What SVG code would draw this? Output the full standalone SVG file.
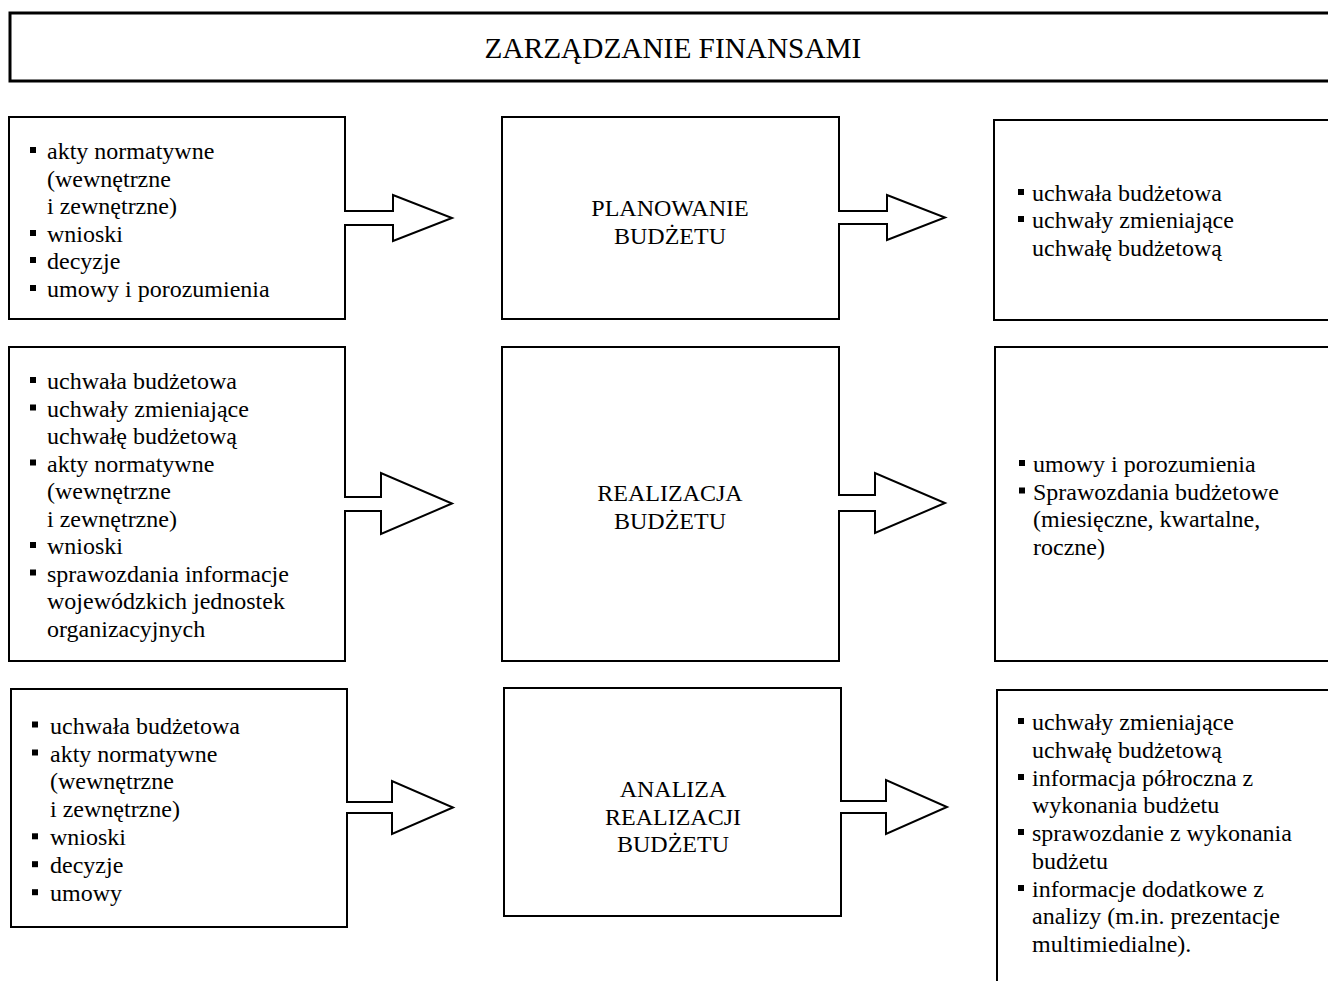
<svg xmlns="http://www.w3.org/2000/svg" width="1328" height="981" viewBox="0 0 1328 981">
  <style>
    .box { fill: #fff; stroke: #000; stroke-width: 2; }
    .title-box { fill: #fff; stroke: #000; stroke-width: 3; }
    .t { font-family: "Liberation Serif", "Times New Roman", serif; font-size: 24px; fill: #000; }
    .title { font-family: "Liberation Serif", "Times New Roman", serif; font-size: 29.3px; fill: #000; }
    .c { text-anchor: middle; }
    .arrow { fill: #fff; stroke: #000; stroke-width: 2; stroke-linejoin: miter; }
    .bul { fill: #000; }
  </style>
  <defs>
    <rect id="bullet" class="bul" x="0" y="-12" width="6" height="6"/>
  </defs>

  <rect width="1328" height="981" fill="#fff"/>

  <!-- header -->
  <g id="title">
    <rect class="title-box" x="10" y="13" width="1340" height="68"/>
    <text class="title c" x="673" y="58">ZARZĄDZANIE FINANSAMI</text>
  </g>

  <!-- row 1: planning -->
  <g id="plan-inputs">
    <rect class="box" x="9" y="117" width="336" height="202"/>
    <use href="#bullet" x="30" y="159"/>
    <use href="#bullet" x="30" y="242"/>
    <use href="#bullet" x="30" y="269"/>
    <use href="#bullet" x="30" y="297"/>
    <text class="t" x="47" y="159">akty normatywne</text>
    <text class="t" x="47" y="187">(wewnętrzne</text>
    <text class="t" x="47" y="214">i zewnętrzne)</text>
    <text class="t" x="47" y="242">wnioski</text>
    <text class="t" x="47" y="269">decyzje</text>
    <text class="t" x="47" y="297">umowy i porozumienia</text>
  </g>
  <g id="plan">
    <rect class="box" x="502" y="117" width="337" height="202"/>
    <text class="t c" x="670" y="216">PLANOWANIE</text>
    <text class="t c" x="670" y="244">BUDŻETU</text>
  </g>
  <g id="plan-outputs">
    <rect class="box" x="994" y="120" width="350" height="200"/>
    <use href="#bullet" x="1018" y="201"/>
    <use href="#bullet" x="1018" y="228"/>
    <text class="t" x="1032" y="201">uchwała budżetowa</text>
    <text class="t" x="1032" y="228">uchwały zmieniające</text>
    <text class="t" x="1032" y="256">uchwałę budżetową</text>
  </g>

  <!-- row 2: execution -->
  <g id="exec-inputs">
    <rect class="box" x="9" y="347" width="336" height="314"/>
    <use href="#bullet" x="30" y="389"/>
    <use href="#bullet" x="30" y="416.5"/>
    <use href="#bullet" x="30" y="471.5"/>
    <use href="#bullet" x="30" y="554"/>
    <use href="#bullet" x="30" y="581.5"/>
    <text class="t" x="47" y="389">uchwała budżetowa</text>
    <text class="t" x="47" y="416.5">uchwały zmieniające</text>
    <text class="t" x="47" y="444">uchwałę budżetową</text>
    <text class="t" x="47" y="471.5">akty normatywne</text>
    <text class="t" x="47" y="499">(wewnętrzne</text>
    <text class="t" x="47" y="526.5">i zewnętrzne)</text>
    <text class="t" x="47" y="554">wnioski</text>
    <text class="t" x="47" y="581.5">sprawozdania informacje</text>
    <text class="t" x="47" y="609">wojewódzkich jednostek</text>
    <text class="t" x="47" y="636.5">organizacyjnych</text>
  </g>
  <g id="exec">
    <rect class="box" x="502" y="347" width="337" height="314"/>
    <text class="t c" x="670" y="501">REALIZACJA</text>
    <text class="t c" x="670" y="529">BUDŻETU</text>
  </g>
  <g id="exec-outputs">
    <rect class="box" x="995" y="347" width="350" height="314"/>
    <use href="#bullet" x="1019" y="472"/>
    <use href="#bullet" x="1019" y="499.5"/>
    <text class="t" x="1033" y="472">umowy i porozumienia</text>
    <text class="t" x="1033" y="499.5">Sprawozdania budżetowe</text>
    <text class="t" x="1033" y="527">(miesięczne, kwartalne,</text>
    <text class="t" x="1033" y="554.5">roczne)</text>
  </g>

  <!-- row 3: analysis -->
  <g id="analysis-inputs">
    <rect class="box" x="11" y="689" width="336" height="238"/>
    <use href="#bullet" x="32" y="733.5"/>
    <use href="#bullet" x="32" y="761.5"/>
    <use href="#bullet" x="32" y="845.3"/>
    <use href="#bullet" x="32" y="873.2"/>
    <use href="#bullet" x="32" y="901.2"/>
    <text class="t" x="50" y="733.5">uchwała budżetowa</text>
    <text class="t" x="50" y="761.5">akty normatywne</text>
    <text class="t" x="50" y="789.4">(wewnętrzne</text>
    <text class="t" x="50" y="817.4">i zewnętrzne)</text>
    <text class="t" x="50" y="845.3">wnioski</text>
    <text class="t" x="50" y="873.2">decyzje</text>
    <text class="t" x="50" y="901.2">umowy</text>
  </g>
  <g id="analysis">
    <rect class="box" x="504" y="688" width="337" height="228"/>
    <text class="t c" x="673" y="797">ANALIZA</text>
    <text class="t c" x="673" y="825">REALIZACJI</text>
    <text class="t c" x="673" y="852">BUDŻETU</text>
  </g>
  <g id="analysis-outputs">
    <rect class="box" x="997" y="690" width="350" height="310"/>
    <use href="#bullet" x="1018" y="730"/>
    <use href="#bullet" x="1018" y="786"/>
    <use href="#bullet" x="1018" y="841"/>
    <use href="#bullet" x="1018" y="897"/>
    <text class="t" x="1032" y="730">uchwały zmieniające</text>
    <text class="t" x="1032" y="758">uchwałę budżetową</text>
    <text class="t" x="1032" y="786">informacja półroczna z</text>
    <text class="t" x="1032" y="813">wykonania budżetu</text>
    <text class="t" x="1032" y="841">sprawozdanie z wykonania</text>
    <text class="t" x="1032" y="869">budżetu</text>
    <text class="t" x="1032" y="897">informacje dodatkowe z</text>
    <text class="t" x="1032" y="924">analizy (m.in. prezentacje</text>
    <text class="t" x="1032" y="952">multimiedialne).</text>
  </g>

  <!-- block arrows; the open tail breaks into the source box edge -->
  <g id="connectors">
    <path class="arrow" d="M344,211 H393 V195 L452,218 L393,241 V225 H344"/>
    <path class="arrow" d="M838,211 H887 V195 L945,217.5 L887,240 V224 H838"/>
    <path class="arrow" d="M344,497 H381 V473 L452,503.5 L381,534 V511 H344"/>
    <path class="arrow" d="M838,495 H875 V473 L945,503 L875,533 V511 H838"/>
    <path class="arrow" d="M346,802 H392 V781 L453,807.5 L392,834 V813 H346"/>
    <path class="arrow" d="M840,801 H886 V780 L947,807 L886,834 V813 H840"/>
  </g>
</svg>
